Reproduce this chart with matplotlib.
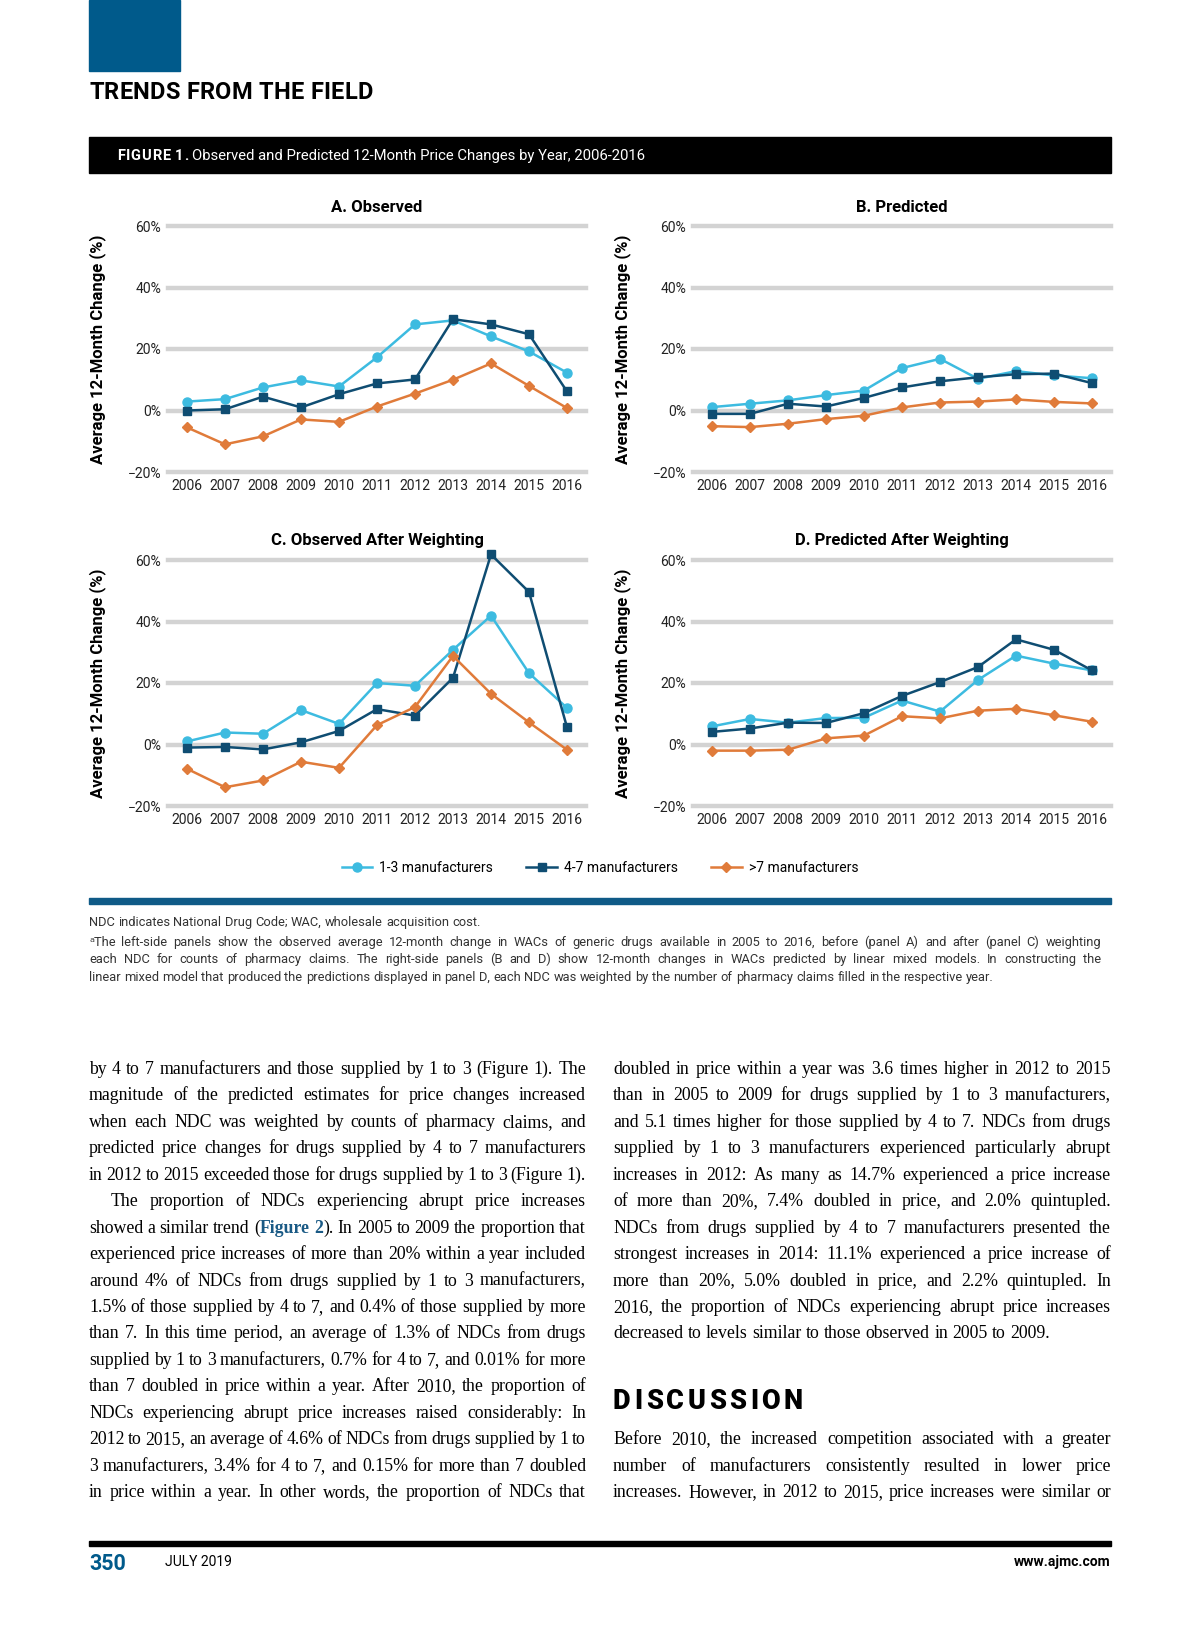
import matplotlib
matplotlib.use('Agg')
import matplotlib.pyplot as plt
import matplotlib.patches as mpatches
from matplotlib.lines import Line2D
from matplotlib.font_manager import FontProperties

# ------------------------------------------
# Data
# ------------------------------------------

years = [2006, 2007, 2008, 2009, 2010, 2011, 2012, 2013, 2014, 2015, 2016]
y_ticks = [-20, 0, 20, 40, 60]
y_ticklabels = ['\u221220%', '0%', '20%', '40%', '60%']

# A. Observed
a_1_3 = [2.9, 3.7, 7.5, 9.8, 7.8, 17.3, 28.0, 29.3, 24.1, 19.2, 12.3]
a_4_7 = [0.0, 0.4, 4.5, 1.0, 5.3, 8.8, 10.1, 29.7, 28.0, 24.8, 6.2]
a_over7 = [-5.5, -11.0, -8.4, -2.9, -3.7, 1.3, 5.5, 10.0, 15.3, 8.0, 0.8]

# B. Predicted
b_1_3 = [1.1, 2.2, 3.3, 5.0, 6.5, 13.8, 16.8, 10.3, 12.8, 11.4, 10.5]
b_4_7 = [-1.1, -1.1, 2.2, 1.3, 4.1, 7.5, 9.5, 10.8, 11.8, 12.0, 8.9]
b_over7 = [-5.1, -5.4, -4.3, -2.8, -1.7, 1.0, 2.6, 2.9, 3.6, 2.8, 2.3]

# C. Observed after weighting
c_1_3 = [1.0, 3.9, 3.5, 11.2, 6.7, 20.0, 19.1, 30.8, 41.9, 23.2, 11.9]
c_4_7 = [-1.0, -0.8, -1.6, 0.7, 4.4, 11.5, 9.4, 21.7, 61.8, 49.6, 5.6]
c_over7 = [-7.9, -13.9, -11.7, -5.6, -7.6, 6.3, 12.2, 28.8, 16.5, 7.2, -1.7]

# D. Predicted after weighting
d_1_3 = [5.9, 8.3, 7.1, 8.6, 8.7, 14.3, 10.7, 21.0, 28.9, 26.3, 24.1]
d_4_7 = [4.1, 5.2, 7.1, 7.0, 10.2, 15.8, 20.3, 25.2, 34.2, 30.8, 24.1]
d_over7 = [-2.0, -2.0, -1.7, 2.0, 2.9, 9.2, 8.5, 11.0, 11.6, 9.5, 7.4]

panel_titles = ['A. Observed', 'B. Predicted', 'C. Observed After Weighting', 'D. Predicted After Weighting']
series_labels = ['1-3 manufacturers', '4-7 manufacturers', '>7 manufacturers']

footnotes = [
    "NDC indicates National Drug Code; WAC, wholesale acquisition cost.",
    "\u1d43The left-side panels show the observed average 12-month change in WACs of generic drugs available in 2005 to 2016, before (panel A) and after (panel C) weighting",
    "each NDC for counts of pharmacy claims. The right-side panels (B and D) show 12-month changes in WACs predicted by linear mixed models. In constructing the",
    "linear mixed model that produced the predictions displayed in panel D, each NDC was weighted by the number of pharmacy claims filled in the respective year.",
]

left_col = [
    "by 4 to 7 manufacturers and those supplied by 1 to 3 (Figure 1). The",
    "magnitude of the predicted estimates for price changes increased",
    "when each NDC was weighted by counts of pharmacy claims, and",
    "predicted price changes for drugs supplied by 4 to 7 manufacturers",
    "in 2012 to 2015 exceeded those for drugs supplied by 1 to 3 (Figure 1).",
    "The proportion of NDCs experiencing abrupt price increases",
    "showed a similar trend (*Figure* *2*). In 2005 to 2009 the proportion that",
    "experienced price increases of more than 20% within a year included",
    "around 4% of NDCs from drugs supplied by 1 to 3 manufacturers,",
    "1.5% of those supplied by 4 to 7, and 0.4% of those supplied by more",
    "than 7. In this time period, an average of 1.3% of NDCs from drugs",
    "supplied by 1 to 3 manufacturers, 0.7% for 4 to 7, and 0.01% for more",
    "than 7 doubled in price within a year. After 2010, the proportion of",
    "NDCs experiencing abrupt price increases raised considerably: In",
    "2012 to 2015, an average of 4.6% of NDCs from drugs supplied by 1 to",
    "3 manufacturers, 3.4% for 4 to 7, and 0.15% for more than 7 doubled",
    "in price within a year. In other words, the proportion of NDCs that",
]

right_col = [
    "doubled in price within a year was 3.6 times higher in 2012 to 2015",
    "than in 2005 to 2009 for drugs supplied by 1 to 3 manufacturers,",
    "and 5.1 times higher for those supplied by 4 to 7. NDCs from drugs",
    "supplied by 1 to 3 manufacturers experienced particularly abrupt",
    "increases in 2012: As many as 14.7% experienced a price increase",
    "of more than 20%, 7.4% doubled in price, and 2.0% quintupled.",
    "NDCs from drugs supplied by 4 to 7 manufacturers presented the",
    "strongest increases in 2014: 11.1% experienced a price increase of",
    "more than 20%, 5.0% doubled in price, and 2.2% quintupled. In",
    "2016, the proportion of NDCs experiencing abrupt price increases",
    "decreased to levels similar to those observed in 2005 to 2009.",
]

discussion = [
    "Before 2010, the increased competition associated with a greater",
    "number of manufacturers consistently resulted in lower price",
    "increases. However, in 2012 to 2015, price increases were similar or",
]

# ------------------------------------------
# Styles
# ------------------------------------------

W, H = 1200, 1638
c_light, c_dark, c_orange = '#3dbbe0', '#0f4d72', '#e07b3a'
c_brand = '#005a8b'
c_link = '#1a5a85'
c_grid = '#d3d3d3'
sans = ['Roboto', 'DejaVu Sans']
serif = ['Liberation Serif', 'DejaVu Serif']

plt.rcParams['font.family'] = sans

fig = plt.figure(figsize=(W / 100, H / 100), dpi=100)
renderer = fig.canvas.get_renderer()


def fx(x):
    return x / W


def fy(y):
    return 1 - y / H


def text_w(s, fp):
    return renderer.get_text_width_height_descent(s, fp, ismath=False)[0]


def tracked(x, y, s, fs, weight='bold', track=0.0, color='black', va='baseline'):
    # draw a string letter by letter with extra tracking (px)
    fp = FontProperties(family=sans, size=fs, weight=weight)
    for ch in s:
        if ch != ' ':
            fig.text(fx(x), fy(y), ch, fontproperties=fp, color=color, va=va, ha='left')
            x += text_w(ch, fp) + track
        else:
            x += fs * 100 / 72 * 0.25 + track
    return x


# ------------------------------------------
# Page header
# ------------------------------------------

fig.patches.append(mpatches.Rectangle((fx(89), fy(71)), fx(180) - fx(89), 71 / H,
                                      transform=fig.transFigure, color=c_brand))
tracked(89, 99, 'TRENDS FROM THE FIELD', 17, track=0.25)
fig.patches.append(mpatches.Rectangle((fx(89), fy(173)), fx(1111) - fx(89), 36 / H,
                                      transform=fig.transFigure, color='black'))
x_end = tracked(117, 160, 'FIGURE 1.', 10.5, track=0.7, color='white')
fig.text(fx(x_end + 3), fy(160), 'Observed and Predicted 12-Month Price Changes by Year, 2006-2016',
         fontsize=10.7, color='white', va='baseline', ha='left')

# ------------------------------------------
# Four panels
# ------------------------------------------

panels = [
    (a_1_3, a_4_7, a_over7, 168, 226),
    (b_1_3, b_4_7, b_over7, 693, 226),
    (c_1_3, c_4_7, c_over7, 168, 560),
    (d_1_3, d_4_7, d_over7, 693, 560),
]
ax_w, ax_h = 418, 246
x_pos = list(range(len(years)))

for i, (s13, s47, s7, left, top) in enumerate(panels):
    ax = fig.add_axes([fx(left), fy(top + ax_h), ax_w / W, ax_h / H])
    ax.plot(x_pos, s13, color=c_light, lw=1.8, marker='o', ms=6.5, clip_on=False, zorder=3)
    ax.plot(x_pos, s47, color=c_dark, lw=1.8, marker='s', ms=6, clip_on=False, zorder=4)
    ax.plot(x_pos, s7, color=c_orange, lw=1.8, marker='D', ms=5, clip_on=False, zorder=5)
    ax.set_xlim(-0.5, len(years) - 0.5)
    ax.set_ylim(-20, 60)
    ax.set_xticks(x_pos)
    ax.set_xticklabels([str(y) for y in years])
    ax.set_yticks(y_ticks)
    ax.set_yticklabels(y_ticklabels)
    ax.tick_params(length=0, labelsize=10, pad=5, colors='#222222')
    ax.grid(axis='y', color=c_grid, lw=3.2)
    for gl in ax.get_ygridlines():
        gl.set_clip_on(False)
    ax.set_axisbelow(True)
    for sp in ax.spines.values():
        sp.set_visible(False)
    ax.patch.set_alpha(0)
    fig.text(fx(left + ax_w / 2), fy(top - 19), panel_titles[i], fontsize=12,
             fontweight='bold', ha='center', va='center')
    fig.text(fx(left - 70), fy(top + ax_h / 2), 'Average 12-Month Change (%)', fontsize=12,
             fontweight='bold', rotation=90, ha='center', va='center')

# Legend
handles = [
    Line2D([], [], color=c_light, lw=1.8, marker='o', ms=6.5),
    Line2D([], [], color=c_dark, lw=1.8, marker='s', ms=6),
    Line2D([], [], color=c_orange, lw=1.8, marker='D', ms=5),
]
fig.legend(handles, series_labels, loc='center', bbox_to_anchor=(fx(600), fy(868)),
           ncol=3, frameon=False, fontsize=10, handlelength=2.2, handletextpad=0.5,
           columnspacing=2.4)

# Blue rule under the figure
fig.patches.append(mpatches.Rectangle((fx(89), fy(904)), fx(1111) - fx(89), 6 / H,
                                      transform=fig.transFigure, color='#0f5a87'))


# ------------------------------------------
# Justified text helper
# ------------------------------------------

def split_words(line):
    out = []
    for w in line.split():
        segs = [(seg, k % 2 == 1) for k, seg in enumerate(w.split('*')) if seg]
        out.append(segs)
    return out


def natural_width(line, fs, family):
    total = 0
    for segs in split_words(line):
        for seg, bold in segs:
            total += text_w(seg, FontProperties(family=family, size=fs,
                                                weight='bold' if bold else 'normal'))
    return total, len(line.split())


def text_line(line, x0, x1, ybase, fs, family, justify=True, color='black', gap_em=0.25):
    words = split_words(line)
    widths = []
    for segs in words:
        widths.append([text_w(seg, FontProperties(family=family, size=fs,
                                                  weight='bold' if bold else 'normal'))
                       for seg, bold in segs])
    tot = sum(sum(w) for w in widths)
    if justify and len(words) > 1:
        gap = (x1 - x0 - tot) / (len(words) - 1)
    else:
        gap = gap_em * fs * 100 / 72
    x = x0
    for segs, ws in zip(words, widths):
        xx = x
        for (seg, bold), wd in zip(segs, ws):
            fig.text(fx(xx), fy(ybase), seg, fontsize=fs, family=family,
                     fontweight='bold' if bold else 'normal',
                     color=c_link if bold else color, va='baseline', ha='left')
            xx += wd
        x += sum(ws) + gap


def fit_size(lines, width, fs, family, min_gap_em=0.22):
    # largest size (<= fs) that lets every justified line keep a minimum word gap
    best = fs
    for line, wd in zip(lines, width):
        nat, n = natural_width(line, fs, family)
        need = nat + (n - 1) * min_gap_em * fs * 100 / 72
        if need > wd:
            best = min(best, fs * wd / need)
    return best


# Footnotes
fn_base = [926, 946, 963, 981]
fn_just = [False, True, True, False]
fn_fs = fit_size(footnotes[1:3], [1012, 1012], 9.3, sans, 0.2)
for line, yb, j in zip(footnotes, fn_base, fn_just):
    text_line(line, 89, 1101, yb, fn_fs, sans, justify=j, color='#333333')

# Body columns
base0, lead = 1074, 26.44
col_w = 497
just_lines = left_col + right_col[:-1] + discussion
widths = [col_w - (22 if ln == left_col[5] else 0) for ln in just_lines]
body_fs = fit_size(just_lines, widths, 12.8, serif, 0.2)

for i, line in enumerate(left_col):
    indent = 22 if i == 5 else 0
    text_line(line, 89 + indent, 586, base0 + i * lead, body_fs, serif)

for i, line in enumerate(right_col):
    text_line(line, 613, 1111, base0 + i * lead, body_fs, serif,
              justify=(i != len(right_col) - 1))

tracked(613, 1409, 'DISCUSSION', 19.5, weight='heavy', track=3.5)
for i, line in enumerate(discussion):
    text_line(line, 613, 1111, base0 + (14 + i) * lead, body_fs, serif)

# ------------------------------------------
# Footer
# ------------------------------------------

fig.patches.append(mpatches.Rectangle((fx(89), fy(1546)), fx(1111) - fx(89), 5 / H,
                                      transform=fig.transFigure, color='black'))
fig.text(fx(89), fy(1564), '350', fontsize=15.5, fontweight='bold', color=c_brand,
         ha='left', va='center')
fig.text(fx(165), fy(1562), 'JULY 2019', fontsize=10, ha='left', va='center')
fig.text(fx(1110), fy(1562), 'www.ajmc.com', fontsize=10, fontweight='bold',
         ha='right', va='center')

fig.savefig('out.png', dpi=100)
